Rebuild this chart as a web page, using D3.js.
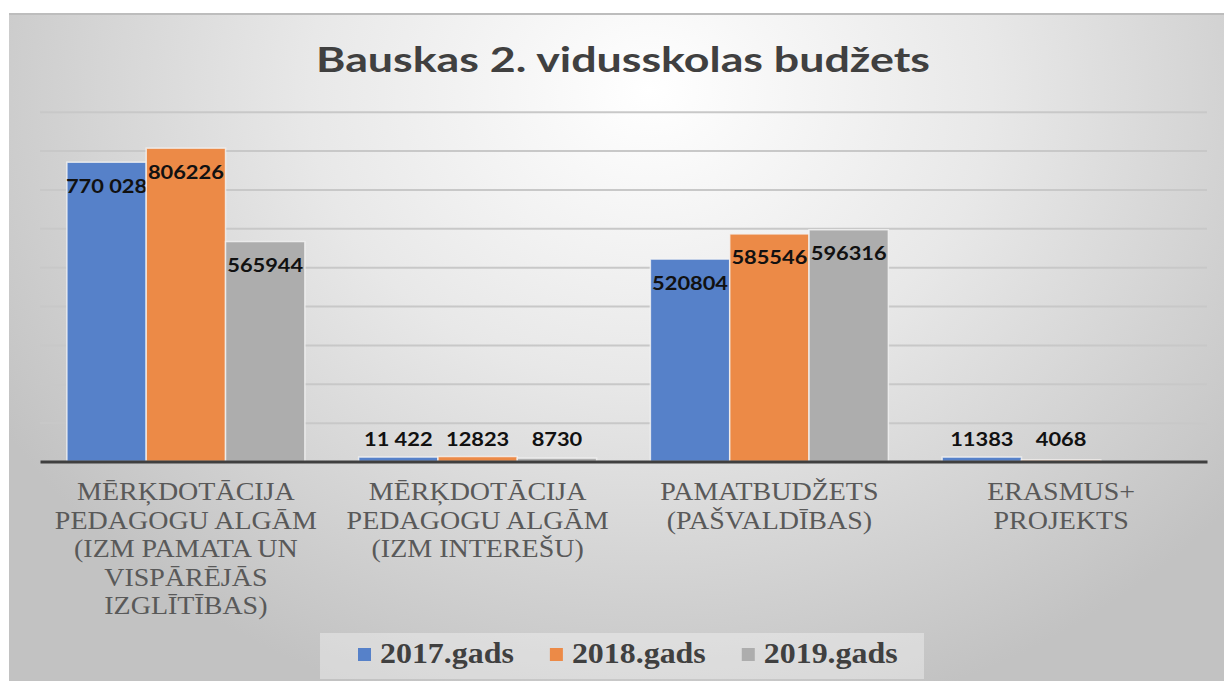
<!DOCTYPE html>
<html lang="lv">
<head>
<meta charset="UTF-8">
<title>Bauskas 2. vidusskolas budžets</title>
<script src="https://d3js.org/d3.v7.min.js"></script>
<style>
    body { margin: 0; background: #ffffff; }
    svg { display: block; }
    .serif { font-family: "Liberation Serif", "DejaVu Serif", "Times New Roman", serif; }
</style>
</head>
<body>
<svg id="chart"></svg>
<script>
    // data
    var categories = [
        "MĒRĶDOTĀCIJA PEDAGOGU ALGĀM (IZM PAMATA UN VISPĀRĒJĀS IZGLĪTĪBAS)",
        "MĒRĶDOTĀCIJA PEDAGOGU ALGĀM (IZM INTEREŠU)",
        "PAMATBUDŽETS (PAŠVALDĪBAS)",
        "ERASMUS+ PROJEKTS"
    ];
    var seriesNames = ["2017.gads", "2018.gads", "2019.gads"];
    var values2017 = [770028, 11422, 520804, 11383];
    var values2018 = [806226, 12823, 585546, 4068];
    var values2019 = [565944, 8730, 596316, null];
    // the first series shows a space as thousands separator on its first two labels
    var spacedLabels2017 = [0, 1];
    var colors = ["#5681c9", "#ec8a47", "#adadad"];
    var yTicks = [0, 100000, 200000, 300000, 400000, 500000, 600000, 700000, 800000, 900000];

    var W = 1224, H = 681;
    var SX = 1.12;   // the picture is stretched sideways a little, so is the text

    var svg = d3.select("#chart").attr("width", W).attr("height", H);

    // background gradient
    var defs = svg.append("defs");
    var grad = defs.append("radialGradient").attr("id", "bg")
        .attr("gradientUnits", "userSpaceOnUse")
        .attr("cx", 650).attr("cy", 90).attr("r", 760)
        .attr("gradientTransform", "translate(650,90) scale(1,0.85) translate(-650,-90)");
    grad.append("stop").attr("offset", "0").attr("stop-color", "#ffffff");
    grad.append("stop").attr("offset", "0.45").attr("stop-color", "#e8e8e8");
    grad.append("stop").attr("offset", "1").attr("stop-color", "#c2c2c2");

    svg.append("rect").attr("x", 9).attr("y", 13).attr("width", W).attr("height", H)
        .attr("fill", "url(#bg)");
    svg.append("line").attr("x1", 9).attr("x2", W).attr("y1", 14).attr("y2", 14)
        .attr("stroke", "#bdbdbd").attr("stroke-width", 2);

    var series = seriesNames.map(function (name, i) {
        return { name: name, values: [values2017, values2018, values2019][i], color: colors[i] };
    });

    var x0 = d3.scaleBand().domain(categories).range([40, 1207]).paddingInner(0).paddingOuter(0);
    var x1 = d3.scaleBand().domain(seriesNames).range([0, x0.bandwidth()]).paddingInner(0).paddingOuter(0.339);
    var y = d3.scaleLinear().domain([0, 900000]).range([461.5, 111.7]);

    // gridlines
    svg.append("g")
        .attr("transform", "translate(40,0)")
        .call(d3.axisLeft(y).tickValues(yTicks.slice(1)).tickSize(-1167).tickFormat(""))
        .call(function (g) {
            g.select(".domain").remove();
            g.selectAll(".tick line").attr("stroke", "#c8c8c8").attr("stroke-width", 2);
        });

    // bars
    var groups = svg.append("g").selectAll("g")
        .data(series).enter().append("g")
        .attr("fill", function (d) { return d.color; });

    function points(s) {
        return s.values.map(function (v, i) { return { s: s.name, c: categories[i], v: v, i: i }; })
            .filter(function (d) { return d.v !== null; });
    }

    groups.selectAll("rect")
        .data(points)
        .enter().append("rect")
        .attr("x", function (d) { return x0(d.c) + x1(d.s); })
        .attr("width", x1.bandwidth())
        .attr("y", function (d) { return y(d.v); })
        .attr("height", function (d) { return y(0) - y(d.v); })
        .attr("stroke", "#f4f4f4").attr("stroke-width", 1.5).attr("stroke-opacity", 0.8);

    // category axis
    svg.append("g")
        .attr("transform", "translate(0," + y(0) + ")")
        .call(d3.axisBottom(x0).tickSize(0).tickFormat(""))
        .call(function (g) {
            g.select(".domain").attr("stroke", "#3f3f3f").attr("stroke-width", 3);
        });

    // data labels
    var spaced = d3.formatLocale({ decimal: ",", thousands: " ", grouping: [3], currency: ["", ""] }).format(",");
    groups.selectAll("text")
        .data(points)
        .enter().append("text")
        .attr("transform", function (d) {
            var cx = x0(d.c) + x1(d.s) + x1.bandwidth() / 2;
            var cy = Math.min(y(d.v) + 23.5, y(0) - 22.5);
            return "translate(" + cx + "," + (cy + 7) + ") scale(" + SX + ",1)";
        })
        .attr("text-anchor", "middle")
        .attr("fill", "#111111")
        .style("font-family", "Lato, 'Open Sans', sans-serif")
        .style("font-weight", "bold")
        .style("font-size", "19.5px")
        .text(function (d) {
            if (d.s === "2017.gads" && spacedLabels2017.indexOf(d.i) >= 0) return spaced(d.v);
            return String(d.v);
        });

    // title, stretched to the width it has in the picture
    var title = svg.append("text")
        .attr("text-anchor", "middle")
        .attr("fill", "#404040")
        .style("font-family", "Lato, 'Open Sans', sans-serif")
        .style("font-weight", "bold")
        .style("font-size", "35px")
        .text("Bauskas 2. vidusskolas budžets");
    var titleScale = 614 / title.node().getComputedTextLength();
    title.attr("transform", "translate(623,72) scale(" + titleScale + ",1)");

    // category labels, wrapped like the original
    var catFont = 25, lineH = 28.5, maxW = 275;
    var measure = svg.append("text").attr("class", "serif")
        .style("font-size", catFont + "px");

    function wrap(str) {
        var words = str.split(" "), lines = [], cur = "";
        words.forEach(function (w) {
            var test = cur ? cur + " " + w : w;
            measure.text(test);
            if (measure.node().getComputedTextLength() * SX > maxW && cur) {
                lines.push(cur);
                cur = w;
            } else {
                cur = test;
            }
        });
        if (cur) lines.push(cur);
        return lines;
    }

    categories.forEach(function (c) {
        var cx = x0(c) + x0.bandwidth() / 2;
        wrap(c).forEach(function (line, k) {
            svg.append("text").attr("class", "serif")
                .attr("transform", "translate(" + cx + "," + (500 + k * lineH) + ") scale(" + SX + ",1)")
                .attr("text-anchor", "middle")
                .attr("fill", "#595959")
                .style("font-size", catFont + "px")
                .style("font-weight", "normal")
                .text(line);
        });
    });
    measure.remove();

    // legend
    svg.append("rect").attr("x", 320).attr("y", 633).attr("width", 604).attr("height", 46)
        .attr("fill", "#ffffff").attr("fill-opacity", 0.35);

    var legend = svg.append("g");
    var lx = 358;
    series.forEach(function (s) {
        legend.append("rect").attr("x", lx).attr("y", 648).attr("width", 13).attr("height", 13)
            .attr("fill", s.color);
        var t = legend.append("text").attr("class", "serif")
            .attr("transform", "translate(" + (lx + 22) + ",663) scale(" + SX + ",1)")
            .attr("fill", "#404040")
            .style("font-weight", "bold")
            .style("font-size", "28.5px")
            .text(s.name);
        lx += 22 + t.node().getComputedTextLength() * SX + 36;
    });
</script>
</body>
</html>
